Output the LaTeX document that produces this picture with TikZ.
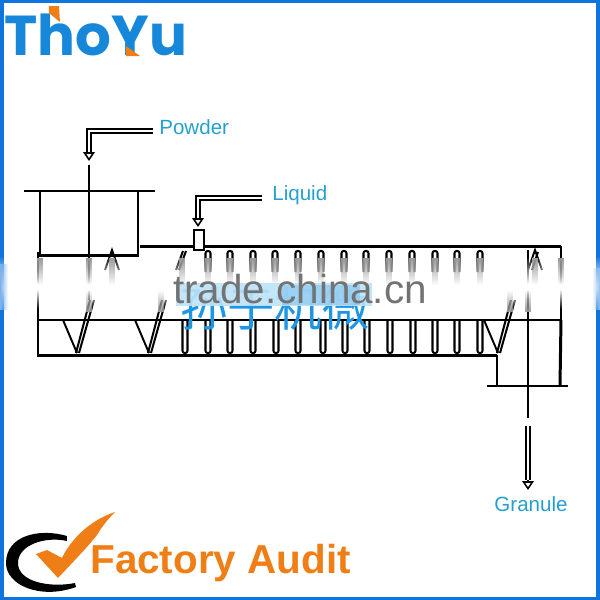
\documentclass[tikz,border=0pt]{standalone}
\usepackage{fontspec}
\setmainfont{Liberation Sans}
\newfontfamily\cjkfont{Noto Sans CJK SC}
\newfontfamily\brandfont{Poppins}
\usetikzlibrary{arrows.meta, fadings}
\definecolor{frameblue}{HTML}{0F74DC}
\definecolor{logoblue}{HTML}{1687D9}
\definecolor{logoorange}{HTML}{F07E16}
\definecolor{labelblue}{HTML}{259FCF}
\definecolor{markblue}{HTML}{1E96E6}
\definecolor{bandblue}{HTML}{BDE3F8}

\begin{document}
\begin{tikzpicture}[
    x=0.02cm, y=-0.02cm,
    wall/.style={line width=1.7pt, black},
    flange/.style={line width=1.6pt, black},
    thin wall/.style={line width=1.1pt, black},
    shaft/.style={line width=1.5pt, black},
    pipe/.style={double=white, double distance=1.1pt, line width=1.05pt, black},
    pipehead/.style={line width=0.9pt, black, -{Triangle[open, fill=white, length=5pt, width=6.5pt]}},
    fin/.style={line width=1.15pt, black, rounded corners=1.2pt},
    smear/.style={black!40},
    label/.style={text=labelblue, font=\fontsize{11.7}{13}\selectfont, inner sep=0pt}
]
\useasboundingbox (0,0) rectangle (600,600);

% ---------------- FRAME ----------------
\fill[frameblue] (0,0) rectangle (600,3);
\fill[frameblue] (0,597) rectangle (600,600);
\fill[frameblue] (0,0) rectangle (4,600);
\fill[frameblue] (596,0) rectangle (600,600);

% ---------------- MIXER ----------------
\draw[flange] (24,191) -- (155,191);
\draw[wall] (40,191) -- (40,255) -- (138,255) -- (138,191);
\draw[shaft] (89,165) -- (89,300);

\draw[wall] (140,246) -- (561,246);
\draw[wall] (38,252) -- (38,355) -- (497,355);
\draw[thin wall] (38,320) -- (561,320);
\draw[thin wall] (561,246) -- (561,320);
\draw[wall] (561,320) -- (560,386);
\draw[wall] (497,355) -- (497,386);
\draw[flange] (487,386) -- (568,386);
\draw[shaft] (528,250) -- (528,418);

% liquid inlet box
\draw[wall, line width=1.2pt, fill=white] (194,230) rectangle (204,250);

% upper fins
\foreach \fx in {208,230,253,275,298,321,344,366,389,412,435,457,480}{
    \draw[fin] (\fx-2.5,272) -- (\fx-2.5,251) -- (\fx+2.5,251) -- (\fx+2.5,272);
}
% lower fins
\foreach \fx in {185,208,230,253,276,298,323,345,367,390,413,435,457,480}{
    \draw[fin] (\fx-2.5,320) -- (\fx-2.5,353) -- (\fx+2.5,353) -- (\fx+2.5,320);
}
% slanted blades
\foreach \vx in {77,149,498}{
    \draw[thin wall] (\vx-14,320) -- (\vx,353);
    \draw[fin] (\vx-1,353) -- (\vx+13,300);
    \draw[fin] (\vx+2,353) -- (\vx+17,300);
}
\draw[fin] (176,270) -- (183,251);
\draw[fin] (179,270) -- (186,251);
\draw[thin wall] (105,270) -- (112,250) -- (119,270);
\draw[thin wall] (528,270) -- (535,250) -- (542,270);
\draw[fin] (532,270) -- (538,252);

% ---------------- WATERMARK BAND ----------------
\fill[white, path fading=north] (0,256) rectangle (600,284);
\fill[white] (0,284) rectangle (600,289);
\fill[white, path fading=south] (0,289) rectangle (600,309);

\foreach \sx in {40,89,112,182,208,230,253,275,298,321,344,366,389,412,435,457,480,535,561}{
    \fill[smear, path fading=south] (\sx-3,258) rectangle (\sx+3,285);
}
\foreach \sx in {89,161,510,528}{
    \fill[smear, path fading=north] (\sx-3,290) rectangle (\sx+3,312);
}
\fill[frameblue!55, path fading=east] (0,264) rectangle (8,310);
\fill[frameblue!45, path fading=west] (592,268) rectangle (600,310);

\node[text=markblue, inner sep=0pt, font=\cjkfont\fontsize{27}{29}\selectfont] (maker) at (275,309) {孙于机微};
\fill[bandblue, opacity=0.9] (176,283) rectangle (372,306);
\fill[markblue!55, opacity=0.6] (282,285) rectangle (360,305);
\node[text=black!55, inner sep=0pt, font=\fontsize{23}{25}\selectfont] (site) at (300,289) {trade.china.cn};

% ---------------- LABELS ----------------
\node[label, anchor=west] (powder) at (159,127) {Powder};
\node[label, anchor=west] (liquid) at (272,195) {Liquid};
\node[label] (granule) at (531,504) {Granule};

\coordinate (powderstart) at (153,131);
\coordinate (powderbend) at (89,131);
\coordinate (powderend) at (89,152);
\coordinate (powdertip) at (89,161);
\coordinate (liquidstart) at (262,198);
\coordinate (liquidbend) at (198,198);
\coordinate (liquidend) at (198,218);
\coordinate (liquidtip) at (198,227);
\coordinate (granulestart) at (528,426);
\coordinate (granuleend) at (528,480);
\coordinate (granuletip) at (528,490);

\draw[pipe] (powderstart) -- (powderbend) -- (powderend);
\draw[pipehead] (powderend) -- (powdertip);
\draw[pipe] (liquidstart) -- (liquidbend) -- (liquidend);
\draw[pipehead] (liquidend) -- (liquidtip);
\draw[pipe] (granulestart) -- (granuleend);
\draw[pipehead] (granuleend) -- (granuletip);

% ---------------- LOGOS ----------------
\node[text=logoblue, inner sep=0pt, anchor=base west, font=\brandfont\bfseries\fontsize{32}{34}\selectfont] (brand) at (4,55) {ThoYu};
\fill[logoorange] (49,6) -- (59,6) -- (60,22) -- (49,13) -- cycle;
\fill[logoorange] (126,46) -- (140,56) -- (126,56) -- cycle;

\fill[black] (67,536) .. controls (40,528) and (6,535) .. (6,563)
    .. controls (6,585) and (40,600) .. (76,587) -- (75,583)
    .. controls (50,588) and (18,582) .. (18,563)
    .. controls (18,545) and (45,536) .. (67,541) -- cycle;
\fill[logoorange] (36,554) -- (47,550) -- (62,558)
    .. controls (68,545) and (85,522) .. (115,512)
    .. controls (105,522) and (100,530) .. (97,535)
    .. controls (85,550) and (70,565) .. (58,578) -- cycle;
\node[text=logoorange, inner sep=0pt, anchor=base west, font=\bfseries\fontsize{23}{25}\selectfont] (audit) at (90,573) {Factory Audit};

\end{tikzpicture}
\end{document}
